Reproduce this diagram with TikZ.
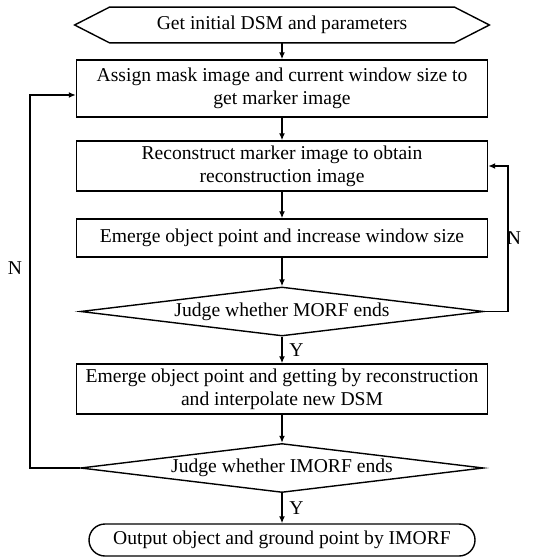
\documentclass[tikz,border=0pt]{standalone}
\usepackage{fontspec}
\setmainfont{Liberation Serif}
\usetikzlibrary{arrows.meta,shapes.geometric,shapes.misc}

\begin{document}
\begin{tikzpicture}[x=0.5pt,y=-0.5pt,
        every node/.style={font=\fontsize{9.8}{11.6}\selectfont},
        line/.style={line width=0.7pt},
        arr/.style={line, -{Latex[length=3.5pt,width=3pt]}},
        box/.style={draw, line, rectangle, align=center, inner sep=0pt, minimum width=205.5pt},
        test/.style={draw, line, diamond, aspect=8, inner sep=0pt, minimum width=201.5pt, minimum height=24.5pt},
        term/.style={draw, line, rounded rectangle, inner sep=0pt, minimum width=193pt, minimum height=16pt}]
        \useasboundingbox (0,0) rectangle (534,560);
        \node[inner sep=0pt, minimum width=172pt, minimum height=17.5pt](init) at (282,25) {Get initial DSM and parameters};
        \draw[line] (init.north west) -- (init.north east) -- ([xshift=17.5pt]init.east)
            -- (init.south east) -- (init.south west) -- ([xshift=-17.5pt]init.west) -- cycle;
        \node[box, minimum height=28.5pt](assign) at (282,88.5) {Assign mask image and current window size to\\get marker image};
        \node[box, minimum height=25pt](recon) at (282,166) {Reconstruct marker image to obtain\\reconstruction image};
        \node[box, minimum height=19pt](emerge) at (282,238) {Emerge object point and increase window size};
        \node[test](morf) at (282,311.5) {Judge whether MORF ends};
        \node[box, minimum height=25pt](update) at (282,389) {Emerge object point and getting by reconstruction\\and interpolate new DSM};
        \node[test](imorf) at (282,468) {Judge whether IMORF ends};
        \node[term](output) at (282,540) {Output object and ground point by IMORF};
        \coordinate (rloop) at (508,166);
        \coordinate (lloop) at (30,95);
        \path[arr]
            (init) edge (assign)
            (assign) edge (recon)
            (recon) edge (emerge)
            (emerge) edge (morf)
            (morf) edge node[right] {Y} (update)
            (update) edge (imorf)
            (imorf) edge node[right] {Y} (output)
            ;
        \draw[arr] (morf.east) -| (rloop) -- (recon.east |- rloop);
        \draw[arr] (imorf.west) -| (lloop) -- (assign.west |- lloop);
        \node(nright) at (514,238) {N};
        \node(nleft) at (15,268) {N};
    \end{tikzpicture}
\end{document}
